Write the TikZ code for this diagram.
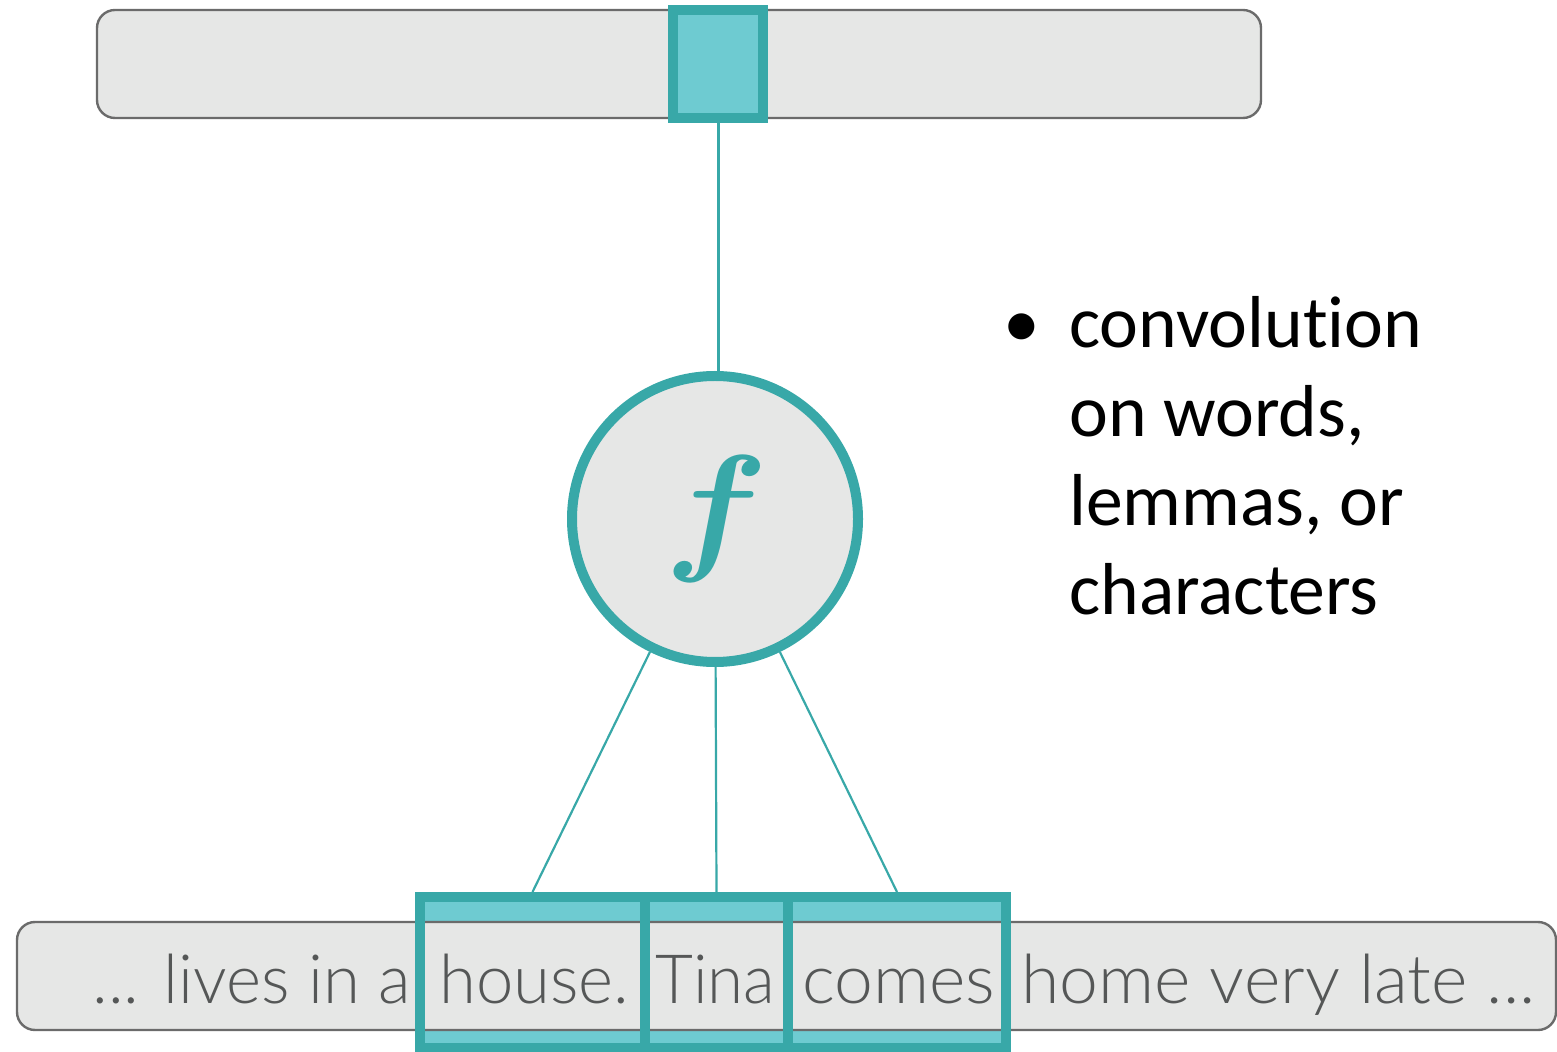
\documentclass[tikz,border=0pt]{standalone}
\usepackage{fontspec}
\usepackage{graphicx}
\newfontfamily\wordfont{Lato}[UprightFont={* Light}]
\newfontfamily\notefont{Carlito}[Ligatures=NoCommon]
\font\fmathbold=cmmib10 at 71pt
\definecolor{tealD}{HTML}{38A8A8}
\definecolor{tealL}{HTML}{6ECBD1}
\definecolor{barfill}{HTML}{E6E7E6}
\definecolor{barline}{HTML}{6B6B6B}
\definecolor{wordgray}{HTML}{555757}
\newlength\fitlen
\newcommand\fitto[2]{\settowidth\fitlen{#2}\pgfmathsetmacro\fitratio{#1/\fitlen}\scalebox{\fitratio}[1]{#2}}
\newcommand\fglyph{\textcolor{tealD}{\makebox[0pt][c]{\scalebox{1.08}[1]{\fmathbold f}\kern7pt}}}
\begin{document}
\begin{tikzpicture}[x=0.5pt,y=-0.5pt,
  bar/.style={rectangle, draw=barline, fill=barfill, line width=1.2pt, rounded corners=9pt, inner sep=0pt},
  tealbox/.style={rectangle, draw=tealD, line width=5pt, inner sep=0pt},
  link/.style={draw=tealD, line width=1.1pt},
  word/.style={font=\wordfont\fontsize{34}{34}\selectfont, text=wordgray, inner sep=0pt, anchor=base west},
  note/.style={font=\notefont\fontsize{36.8}{44.5}\selectfont, text=black, inner sep=0pt}]
\useasboundingbox (0,0) rectangle (1557,1052);
% top layer
\node[bar, minimum width=582pt, minimum height=54pt] (topbar) at (679,64) {};
\node[tealbox, fill=tealL, minimum width=45pt, minimum height=54pt] (cell) at (718,64) {};
% function node
\node[circle, draw=tealD, fill=barfill, line width=5pt, minimum size=143pt, inner sep=0pt] (fn) at (715,519) {\fglyph};
% bottom layer
\fill[tealL] (420,897) rectangle (1006,1048);
\node[bar, minimum width=769.5pt, minimum height=54pt] (botbar) at (786.5,976) {};
\node[tealbox, minimum width=109pt, minimum height=75.5pt] (w3) at (897,972.5) {};
\node[tealbox, minimum width=71.5pt, minimum height=75.5pt] (w2) at (716.5,972.5) {};
\node[tealbox, minimum width=112.5pt, minimum height=75.5pt] (w1) at (532.5,972.5) {};
% words
\node[word] (t0) at (92,1003) {\fitto{159pt}{... lives in a}};
\node[word] (t1) at (439,1003) {\fitto{95pt}{house.}};
\node[word] (t2) at (655,1003) {\fitto{60pt}{Tina}};
\node[word] (t3) at (802,1003) {\fitto{96.5pt}{comes}};
\node[word] (t4) at (1021,1003) {\fitto{257pt}{home very late ...}};
% connectors
\draw[link, line width=1.5pt] (cell.south) -- (cell.south |- fn.north);
\draw[link] (fn) -- (w1.north);
\draw[link] (fn) -- (w2.north);
\draw[link] (fn) -- (w3.north);
% bullet text
\node[note, anchor=base] (bul) at (1022,348) {•};
\node[note, anchor=base west, align=left] (txt) at (1069,615) {convolution\\on words,\\lemmas, or\\characters};
\end{tikzpicture}
\end{document}
